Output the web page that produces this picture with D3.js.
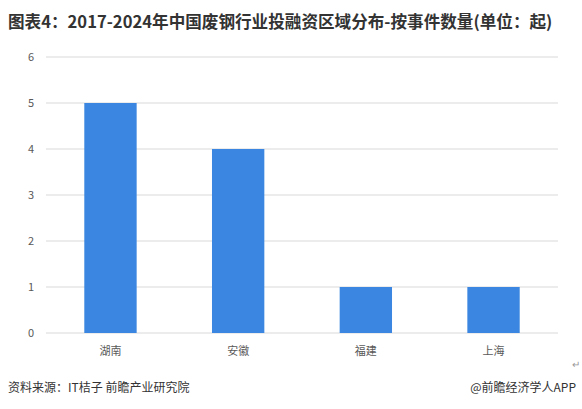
<!DOCTYPE html>
<html><head><meta charset="utf-8">
<script src="https://cdn.jsdelivr.net/npm/d3@7"></script>
<style>body{margin:0;background:#fff;font-family:"Noto Sans CJK SC","Noto Sans",sans-serif}</style>
</head><body>
<svg id="chart" width="582" height="409"></svg>
<script>
// data
var regions = ["湖南", "安徽", "福建", "上海"];
var counts = [5, 4, 1, 1];
var yTicks = [0, 1, 2, 3, 4, 5, 6];

var svg = d3.select("#chart");
var margin = { top: 57, left: 46, right: 558, bottom: 333 };

// title
svg.append("text")
    .attr("x", 8).attr("y", 28)
    .attr("font-size", 16.6).attr("font-weight", "bold").attr("fill", "#333")
    .text("图表4：2017-2024年中国废钢行业投融资区域分布-按事件数量(单位：起)");

var x = d3.scaleBand().domain(regions).range([margin.left, margin.right]).paddingInner(0.59).paddingOuter(0.3);
var y = d3.scaleLinear().domain([0, 6]).range([margin.bottom, margin.top]);

// gridlines
svg.append("g").selectAll("line").data(yTicks).enter().append("line")
    .attr("x1", margin.left).attr("x2", margin.right)
    .attr("y1", d => y(d)).attr("y2", d => y(d))
    .attr("stroke", "#d9d9d9").attr("stroke-width", 1);

// y labels
svg.append("g").selectAll("text").data(yTicks).enter().append("text")
    .attr("x", 34).attr("y", d => y(d) + 4)
    .attr("text-anchor", "end").attr("font-size", 11).attr("fill", "#595959")
    .text(d => d);

// bars
svg.append("g").selectAll("rect").data(counts).enter().append("rect")
    .attr("x", (d, i) => x(regions[i]))
    .attr("width", x.bandwidth())
    .attr("y", d => y(d))
    .attr("height", d => y(0) - y(d))
    .attr("fill", "#3a86e0");

// x labels
svg.append("g").selectAll("text").data(regions).enter().append("text")
    .attr("x", d => x(d) + x.bandwidth() / 2).attr("y", 355)
    .attr("text-anchor", "middle").attr("font-size", 11).attr("fill", "#595959")
    .text(d => d);

svg.append("text").attr("x", 572).attr("y", 368).attr("font-size", 10).attr("fill", "#999").text("↵");

// footer
svg.append("text").attr("x", 8).attr("y", 392).attr("font-size", 12).attr("fill", "#333")
    .text("资料来源：IT桔子 前瞻产业研究院");
svg.append("text").attr("x", 576).attr("y", 392).attr("text-anchor", "end").attr("font-size", 12).attr("fill", "#333")
    .text("@前瞻经济学人APP");
</script>
</body></html>
